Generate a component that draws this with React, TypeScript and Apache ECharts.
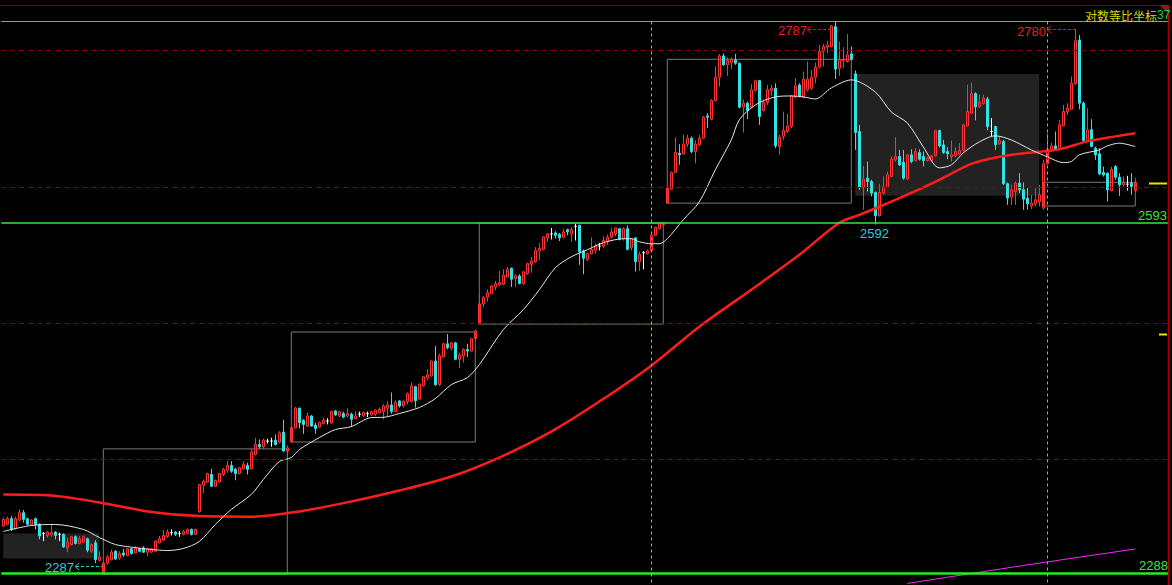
import React, { useEffect, useRef } from "react";
import * as echarts from "echarts";

// Each candle: [open, close, low, high]
const seg0: number[][] = [
  [2326.6, 2332.2, 2326.0, 2333.6], [2328.0, 2332.8, 2327.2, 2334.4], [2332.8, 2323.9, 2322.5, 2335.0],
  [2324.4, 2332.8, 2323.9, 2334.4], [2331.7, 2337.8, 2330.8, 2340.6], [2337.8, 2332.2, 2329.4, 2340.0],
  [2332.8, 2328.0, 2327.2, 2333.6], [2328.0, 2331.7, 2327.2, 2332.2], [2332.8, 2328.0, 2323.9, 2333.6],
  [2328.0, 2318.3, 2315.5, 2328.9], [2320.5, 2320.5, 2314.1, 2321.6], [2318.8, 2321.6, 2316.9, 2322.5],
  [2319.7, 2321.1, 2317.7, 2327.2], [2321.6, 2318.8, 2315.5, 2322.5], [2319.7, 2319.7, 2314.1, 2321.1],
  [2319.7, 2309.3, 2308.5, 2320.5], [2308.5, 2313.2, 2304.9, 2316.9], [2311.3, 2317.7, 2310.5, 2318.3],
  [2317.7, 2312.1, 2311.3, 2318.8], [2312.1, 2316.0, 2311.3, 2318.3], [2313.2, 2317.7, 2312.7, 2318.8],
  [2316.0, 2306.6, 2304.9, 2316.9], [2305.7, 2311.3, 2304.3, 2312.1], [2312.7, 2298.7, 2295.9, 2314.9],
  [2298.2, 2301.0, 2297.3, 2305.7],
];
const seg1: number[][] = [
  [2287.0, 2295.9, 2287.0, 2296.5], [2295.9, 2301.0, 2294.6, 2302.9], [2298.7, 2304.9, 2298.2, 2307.1],
  [2305.7, 2299.3, 2298.7, 2306.6], [2300.1, 2303.8, 2298.7, 2305.7], [2304.3, 2302.6, 2301.0, 2307.7],
  [2302.1, 2307.7, 2301.5, 2308.5], [2307.7, 2303.8, 2302.9, 2308.5], [2304.3, 2308.5, 2303.8, 2309.9],
  [2307.7, 2305.7, 2304.9, 2308.5], [2308.5, 2304.9, 2304.3, 2309.9], [2304.9, 2307.7, 2301.5, 2308.5],
  [2304.9, 2307.7, 2304.3, 2308.5], [2305.7, 2314.1, 2304.9, 2314.9], [2312.7, 2316.0, 2312.1, 2318.3],
  [2314.9, 2318.8, 2314.1, 2323.3], [2317.7, 2321.6, 2316.9, 2323.9], [2321.1, 2321.1, 2318.8, 2323.9],
  [2321.6, 2319.7, 2318.3, 2322.5], [2320.5, 2320.5, 2317.7, 2322.5], [2319.7, 2321.9, 2318.8, 2323.3],
  [2320.5, 2323.9, 2319.7, 2324.4], [2323.9, 2319.7, 2318.8, 2324.4], [2319.7, 2323.9, 2319.1, 2324.4],
  [2338.6, 2361.4, 2337.8, 2362.0], [2360.9, 2364.3, 2354.3, 2365.7], [2363.4, 2370.8, 2362.8, 2371.4],
  [2370.0, 2360.0, 2359.4, 2374.8], [2360.0, 2364.8, 2359.4, 2365.7], [2363.7, 2370.8, 2362.8, 2371.4],
  [2370.0, 2374.3, 2368.6, 2375.7], [2373.7, 2377.7, 2371.4, 2381.4], [2377.7, 2372.8, 2371.4, 2381.4],
  [2374.3, 2370.8, 2365.1, 2375.7], [2370.8, 2375.7, 2370.0, 2376.5], [2374.8, 2378.5, 2374.3, 2381.4],
  [2377.7, 2374.3, 2370.0, 2380.0], [2374.8, 2389.1, 2374.3, 2391.9], [2387.1, 2395.6, 2386.2, 2401.3],
  [2395.6, 2393.6, 2391.9, 2399.9], [2393.6, 2399.3, 2391.9, 2400.5], [2398.5, 2398.5, 2396.5, 2400.5],
  [2398.5, 2398.5, 2393.6, 2401.3], [2399.3, 2395.6, 2394.8, 2404.2], [2397.6, 2405.6, 2396.5, 2407.0],
  [2406.2, 2389.9, 2389.4, 2417.0], [2389.9, 2392.8, 2385.1, 2394.8],
];
const seg2: number[][] = [
  [2397.7, 2410.0, 2397.0, 2410.6], [2410.0, 2426.9, 2409.4, 2428.1], [2426.9, 2414.4, 2409.4, 2427.5],
  [2416.4, 2412.9, 2404.7, 2417.3], [2411.4, 2420.2, 2410.6, 2423.1], [2420.2, 2411.4, 2411.1, 2420.8],
  [2412.3, 2409.4, 2404.7, 2414.4], [2410.6, 2414.4, 2410.0, 2415.2], [2413.5, 2416.4, 2412.9, 2418.7],
  [2415.8, 2415.8, 2412.9, 2418.2], [2414.1, 2424.0, 2413.5, 2424.6], [2424.6, 2421.1, 2420.2, 2425.2],
  [2420.2, 2424.0, 2419.3, 2424.6], [2422.2, 2419.3, 2418.2, 2424.0], [2420.2, 2422.2, 2418.7, 2426.9],
  [2421.7, 2417.3, 2410.6, 2423.1], [2417.9, 2420.2, 2417.3, 2424.0], [2421.7, 2421.7, 2419.3, 2424.0],
  [2420.2, 2423.1, 2419.3, 2424.0], [2422.2, 2422.2, 2419.3, 2424.0], [2421.1, 2424.0, 2420.2, 2424.6],
  [2421.7, 2425.2, 2420.2, 2426.0], [2423.1, 2426.0, 2422.2, 2427.5], [2424.0, 2428.9, 2417.3, 2430.4],
  [2426.9, 2429.8, 2420.2, 2433.3], [2429.8, 2424.0, 2422.2, 2440.6], [2424.0, 2431.9, 2423.1, 2433.9],
  [2433.3, 2428.9, 2427.5, 2433.9], [2428.9, 2432.8, 2427.5, 2433.9], [2432.8, 2439.8, 2430.4, 2440.6],
  [2432.8, 2446.5, 2431.9, 2449.4], [2445.6, 2433.3, 2427.5, 2446.5], [2434.8, 2447.9, 2433.9, 2448.5],
  [2446.5, 2454.4, 2445.6, 2455.2], [2453.2, 2456.1, 2451.4, 2461.1], [2455.2, 2468.4, 2454.4, 2469.0],
  [2468.4, 2447.4, 2446.5, 2481.5], [2447.4, 2472.8, 2446.5, 2474.8], [2471.9, 2483.6, 2471.3, 2484.4],
  [2483.6, 2480.1, 2478.6, 2492.3], [2479.5, 2484.4, 2477.7, 2485.3], [2484.4, 2469.8, 2469.0, 2485.3],
  [2469.8, 2473.6, 2462.0, 2475.7], [2472.8, 2478.6, 2466.9, 2479.5], [2478.6, 2477.1, 2471.9, 2483.6],
  [2477.1, 2488.2, 2476.6, 2488.8], [2488.2, 2495.2, 2487.4, 2496.1],
];
const seg3: number[][] = [
  [2501.2, 2519.4, 2501.0, 2528.5], [2519.4, 2524.9, 2516.4, 2526.4], [2525.5, 2529.5, 2521.3, 2532.5],
  [2528.5, 2535.5, 2527.9, 2536.5], [2534.6, 2537.7, 2531.6, 2540.1], [2536.5, 2538.6, 2535.5, 2549.2],
  [2537.1, 2545.3, 2536.2, 2550.7], [2543.7, 2550.7, 2543.1, 2552.9], [2551.7, 2541.6, 2534.6, 2552.3],
  [2542.2, 2544.7, 2534.6, 2546.2], [2544.7, 2537.7, 2537.1, 2546.2], [2537.7, 2548.3, 2536.5, 2549.2],
  [2546.8, 2555.9, 2545.6, 2556.8], [2555.3, 2558.3, 2547.7, 2562.0], [2557.7, 2568.1, 2556.8, 2571.1],
  [2567.5, 2569.9, 2559.0, 2575.1], [2569.0, 2580.5, 2568.1, 2581.1], [2579.6, 2583.3, 2576.0, 2584.2],
  [2583.3, 2583.3, 2578.1, 2588.7], [2584.2, 2582.0, 2579.0, 2585.7], [2582.7, 2579.6, 2576.6, 2584.2],
  [2580.2, 2585.1, 2579.0, 2588.1], [2587.2, 2585.1, 2582.0, 2588.1], [2583.3, 2587.2, 2576.0, 2589.3],
  [2590.3, 2590.3, 2577.2, 2592.4], [2591.2, 2566.9, 2554.7, 2591.8], [2567.5, 2560.8, 2546.2, 2569.0],
  [2559.9, 2565.0, 2558.3, 2565.9], [2565.0, 2569.0, 2564.4, 2580.2], [2568.1, 2572.0, 2565.0, 2574.1],
  [2572.0, 2572.0, 2568.1, 2575.1], [2572.0, 2577.2, 2570.5, 2581.1], [2576.6, 2580.2, 2572.9, 2582.7],
  [2580.2, 2585.1, 2579.0, 2588.7], [2583.3, 2588.7, 2581.1, 2589.3], [2588.1, 2578.1, 2577.2, 2588.7],
  [2579.0, 2588.1, 2577.2, 2589.3], [2588.1, 2569.0, 2568.1, 2591.2], [2570.5, 2579.0, 2568.1, 2579.6],
  [2579.6, 2557.7, 2548.6, 2580.2], [2557.7, 2564.4, 2549.2, 2566.9], [2565.9, 2565.9, 2550.7, 2567.5],
  [2565.0, 2567.5, 2564.4, 2569.0], [2568.1, 2582.0, 2566.9, 2583.3], [2582.0, 2589.3, 2581.1, 2589.9],
  [2588.1, 2592.4, 2587.2, 2593.3], [2591.8, 2593.3, 2591.2, 2594.2],
];
const seg4: number[][] = [
  [2611.9, 2626.0, 2611.3, 2627.5], [2625.0, 2640.7, 2624.4, 2641.6], [2640.7, 2659.7, 2640.1, 2674.4],
  [2659.0, 2657.4, 2648.1, 2667.6], [2658.4, 2667.6, 2657.4, 2676.6], [2667.6, 2673.4, 2665.0, 2676.6],
  [2673.4, 2660.6, 2659.0, 2675.0], [2660.6, 2667.6, 2649.5, 2671.2], [2666.9, 2673.4, 2665.6, 2676.6],
  [2673.4, 2693.6, 2672.4, 2694.8], [2694.8, 2693.6, 2683.0, 2697.4], [2691.6, 2709.7, 2690.4, 2711.0],
  [2709.7, 2732.4, 2708.7, 2742.9], [2732.4, 2753.3, 2723.3, 2755.3], [2753.3, 2744.5, 2743.5, 2755.9],
  [2744.5, 2748.7, 2733.7, 2752.0], [2746.8, 2750.0, 2740.2, 2752.0], [2749.4, 2746.1, 2744.5, 2755.3],
  [2746.1, 2703.2, 2702.2, 2746.8], [2703.2, 2707.1, 2678.8, 2710.3], [2707.1, 2700.0, 2691.6, 2708.7],
  [2703.2, 2720.0, 2702.2, 2725.9], [2719.3, 2729.1, 2718.4, 2729.8], [2729.1, 2694.2, 2686.2, 2729.8],
  [2700.0, 2707.7, 2699.0, 2710.3], [2707.7, 2720.0, 2705.5, 2724.9], [2719.3, 2721.6, 2714.2, 2724.9],
  [2721.6, 2666.0, 2663.8, 2726.5], [2665.4, 2674.4, 2657.4, 2676.6], [2675.0, 2680.8, 2671.8, 2699.0],
  [2679.8, 2685.2, 2678.2, 2696.8], [2684.6, 2714.2, 2683.0, 2715.2], [2712.9, 2723.9, 2711.9, 2731.4],
  [2724.9, 2713.5, 2712.9, 2726.5], [2712.9, 2730.5, 2711.9, 2738.0], [2720.0, 2730.5, 2718.4, 2747.8],
  [2721.6, 2732.4, 2720.0, 2739.6], [2732.4, 2742.2, 2726.5, 2746.8], [2742.2, 2757.6, 2741.2, 2764.1],
  [2757.6, 2762.5, 2742.9, 2765.2], [2761.9, 2764.1, 2755.9, 2768.4], [2762.5, 2783.0, 2761.9, 2784.0],
  [2782.3, 2740.2, 2730.5, 2787.0], [2741.2, 2749.4, 2733.7, 2767.5], [2748.7, 2750.0, 2741.2, 2761.9],
  [2747.8, 2754.3, 2746.8, 2775.0], [2755.3, 2750.0, 2748.7, 2762.5],
];
const seg5: number[][] = [
  [2735.7, 2678.8, 2662.2, 2739.0], [2679.8, 2626.9, 2624.4, 2686.2], [2626.9, 2634.4, 2605.7, 2647.0],
  [2635.4, 2632.2, 2622.8, 2651.1], [2632.2, 2621.3, 2618.1, 2633.8], [2621.9, 2600.1, 2592.0, 2622.8],
  [2600.1, 2621.9, 2599.5, 2630.1], [2621.3, 2626.9, 2619.7, 2636.9], [2626.9, 2638.5, 2626.0, 2641.6],
  [2636.9, 2653.3, 2636.3, 2655.9], [2652.7, 2655.9, 2651.1, 2674.4], [2655.9, 2647.9, 2647.0, 2662.2],
  [2650.2, 2635.4, 2633.8, 2662.2], [2634.4, 2657.5, 2633.8, 2658.4], [2657.5, 2651.1, 2649.5, 2662.8],
  [2652.1, 2660.6, 2651.1, 2663.8], [2659.6, 2653.3, 2652.1, 2662.8], [2655.9, 2652.1, 2646.4, 2660.6],
  [2652.1, 2654.3, 2651.1, 2655.9], [2652.1, 2656.5, 2651.1, 2657.5], [2656.5, 2680.8, 2655.9, 2681.4],
  [2680.8, 2666.0, 2664.7, 2681.4], [2667.0, 2659.6, 2658.4, 2671.8], [2660.6, 2658.4, 2653.3, 2664.7],
  [2655.9, 2657.5, 2651.1, 2671.2], [2656.5, 2660.6, 2655.3, 2664.7], [2658.4, 2661.6, 2657.5, 2668.6],
  [2661.6, 2686.2, 2660.6, 2687.2], [2685.2, 2699.0, 2684.6, 2725.1], [2697.4, 2716.4, 2696.8, 2727.2],
  [2716.4, 2703.4, 2690.4, 2717.7], [2703.4, 2707.9, 2702.5, 2715.4], [2706.6, 2712.2, 2705.6, 2715.4],
  [2711.2, 2684.6, 2680.8, 2713.2], [2679.8, 2679.8, 2675.0, 2692.6], [2684.6, 2667.0, 2662.2, 2685.2],
  [2668.0, 2671.2, 2667.0, 2675.0], [2670.2, 2630.1, 2629.1, 2671.8], [2630.1, 2616.6, 2610.3, 2631.3],
  [2617.5, 2624.4, 2610.3, 2629.1], [2622.8, 2630.7, 2610.3, 2632.2], [2630.7, 2624.4, 2621.3, 2640.1],
  [2624.4, 2615.6, 2605.7, 2631.3], [2616.6, 2611.3, 2605.7, 2626.0], [2609.4, 2611.9, 2606.3, 2619.7],
  [2611.3, 2615.0, 2608.8, 2626.0], [2613.4, 2619.7, 2608.8, 2629.1],
];
const seg6: number[][] = [
  [2607.3, 2648.9, 2605.7, 2652.7], [2648.9, 2662.8, 2648.0, 2678.2], [2661.6, 2666.0, 2660.6, 2669.2],
  [2666.0, 2662.8, 2661.6, 2679.8], [2663.8, 2686.2, 2662.2, 2691.0], [2685.2, 2699.0, 2684.6, 2705.5],
  [2699.0, 2702.2, 2695.8, 2707.1], [2701.2, 2726.5, 2700.6, 2733.1], [2725.9, 2768.4, 2724.9, 2780.0],
  [2769.1, 2707.1, 2701.2, 2774.0], [2707.1, 2671.2, 2670.2, 2708.7], [2671.2, 2681.4, 2670.2, 2702.2],
  [2681.4, 2665.4, 2664.8, 2691.6], [2663.8, 2657.4, 2652.7, 2665.4], [2658.4, 2639.4, 2638.5, 2663.8],
  [2640.7, 2638.5, 2636.9, 2646.3], [2640.1, 2624.4, 2613.4, 2640.7], [2623.8, 2643.8, 2622.8, 2646.3],
  [2646.3, 2636.3, 2633.8, 2647.9], [2636.3, 2629.1, 2618.7, 2640.1], [2629.1, 2630.7, 2627.5, 2636.9],
  [2629.7, 2629.7, 2623.8, 2637.6], [2630.7, 2627.5, 2619.7, 2640.1], [2623.8, 2631.3, 2622.2, 2635.4],
];

// Moving averages: [candle index, price]
const maShort: number[][] = [
  [0, 2322.1], [7, 2327.1], [13, 2327.9], [20, 2323.8], [24, 2317.1], [28, 2311.3], [32, 2309.1],
  [37, 2307.2], [41, 2306.3], [45, 2308.0], [49, 2313.8], [53, 2327.9], [57, 2340.5], [62, 2353.1],
  [65, 2365.7], [69, 2381.0], [72, 2384.4], [74, 2391.2], [79, 2401.5], [83, 2408.4], [87, 2411.0],
  [92, 2418.8], [95, 2419.0], [99, 2422.3], [104, 2427.5], [108, 2435.3], [112, 2447.5], [116, 2453.6],
  [119, 2465.1], [125, 2496.2], [130, 2514.1], [134, 2532.1], [138, 2552.1], [142, 2562.2], [146, 2568.6],
  [150, 2575.1], [155, 2578.8], [157, 2578.8], [159, 2576.0], [162, 2574.2], [164, 2574.2], [166, 2578.8],
  [170, 2596.4], [174, 2613.1], [178, 2643.2], [182, 2671.7], [184, 2691.0], [188, 2705.4], [193, 2713.2],
  [197, 2714.1], [200, 2713.2], [203, 2711.2], [207, 2721.9], [212, 2729.8], [218, 2718.0], [222, 2698.6],
  [226, 2688.0], [230, 2665.0], [234, 2645.1], [237, 2647.9], [240, 2659.3], [244, 2669.8], [248, 2675.6],
  [252, 2671.7], [257, 2662.2], [261, 2655.6], [265, 2650.1], [267, 2651.1], [269, 2657.5], [274, 2662.2],
  [276, 2666.0], [279, 2668.6], [283, 2665.3],
];
const maLong: number[][] = [
  [0, 2353.1], [12, 2352.3], [24, 2346.4], [37, 2338.4], [49, 2334.9], [62, 2334.4], [74, 2338.8],
  [87, 2347.2], [99, 2356.4], [112, 2368.3], [124, 2384.4], [137, 2406.7], [149, 2432.7], [162, 2464.2],
  [174, 2498.8], [187, 2532.1], [199, 2564.0], [209, 2593.6], [214, 2600.9], [219, 2608.5], [226, 2619.8],
  [234, 2633.8], [242, 2648.9], [249, 2655.6], [256, 2659.4], [264, 2662.7], [271, 2670.3], [278, 2675.1],
  [283, 2678.2],
];
const maYear: number[][] = [[226, 2279.3], [255, 2294.0], [283, 2307.6]];

// Annotation levels
const levelLines = [2787.5, 2593.5, 2288.0];
const gridLevels = [2758.5, 2626.8, 2501.9, 2383.0];
const markerIndex = [162, 261];
// [startIndex, topPrice, endIndex, bottomPrice]
const outlineBoxes = [
  [25, 2391.8, 71, 2287.0],
  [72, 2494.1, 118, 2397.7],
  [119, 2593.3, 165, 2501.2],
  [166, 2750.0, 212, 2611.9],
  [260, 2631.5, 283, 2609.2],
];
const filledBoxes = [
  [0, 2320.4, 24, 2299.8],
  [213, 2735.6, 259, 2618.7],
];

const candles = [...seg0, ...seg1, ...seg2, ...seg3, ...seg4, ...seg5, ...seg6];
const emptySlots = 8;
const categories = candles
  .map((_, i) => `K${i + 1}`)
  .concat(Array.from({ length: emptySlots }, (_, i) => `E${i + 1}`));

const UP = "#ff3333";
const DOWN = "#2fe3e3";
const FONT = "'Liberation Sans', Arial, sans-serif";

export default function App() {
  const ref = useRef<HTMLDivElement>(null);

  useEffect(() => {
    document.body.style.margin = "0";
    document.body.style.background = "#000";
    if (!ref.current) return;
    const chart = echarts.init(ref.current, undefined, { renderer: "svg" });

    const candleItems = candles.map((c) =>
      c[0] === c[1]
        ? {
            value: c,
            itemStyle: { color: "#ffffff", color0: "#ffffff", borderColor: "#ffffff", borderColor0: "#ffffff" },
          }
        : { value: c }
    );

    const areaData: any[] = [];
    outlineBoxes.forEach((b) =>
      areaData.push([
        { coord: [b[0], b[1]], itemStyle: { color: "rgba(0,0,0,0)", borderColor: "#7a7a7a", borderWidth: 1 } },
        { coord: [b[2], b[3]] },
      ])
    );
    filledBoxes.forEach((b) =>
      areaData.push([
        { coord: [b[0], b[1]], itemStyle: { color: "#222222", borderWidth: 0 } },
        { coord: [b[2], b[3]] },
      ])
    );

    const dashRed = { stroke: "#dd1111", lineWidth: 1, lineDash: [3, 2], fill: null };
    const cyanTxt = "#25d0d0";

    const option: any = {
      animation: false,
      backgroundColor: "#000000",
      grid: { left: 1.3, top: 5, width: 1168, height: 580 },
      xAxis: { type: "category", data: categories, show: false, boundaryGap: true },
      yAxis: { type: "log", logBase: 10, min: 2278, max: 2804, show: false, splitLine: { show: false } },
      series: [
        {
          type: "line",
          data: [],
          z: 1,
          silent: true,
          markArea: { silent: true, data: areaData },
          markLine: {
            silent: true,
            symbol: ["none", "none"],
            label: { show: false },
            lineStyle: { color: "#8b0000", type: [5, 4], width: 1 },
            data: gridLevels.map((v) => ({ yAxis: v })),
          },
        },
        {
          type: "candlestick",
          data: candleItems,
          barWidth: 2.4,
          z: 2,
          itemStyle: {
            color: "rgba(0,0,0,0)",
            color0: DOWN,
            borderColor: UP,
            borderColor0: DOWN,
            borderWidth: 1,
          },
        },
        {
          type: "line",
          data: maLong,
          smooth: 0.3,
          showSymbol: false,
          symbol: "none",
          z: 3,
          lineStyle: { color: "#ff1c1c", width: 2.5 },
        },
        {
          type: "line",
          data: maYear,
          showSymbol: false,
          symbol: "none",
          z: 3,
          lineStyle: { color: "#ff22ff", width: 1 },
        },
        {
          type: "line",
          data: maShort,
          smooth: 0.3,
          showSymbol: false,
          symbol: "none",
          z: 4,
          lineStyle: { color: "#e6e6e6", width: 1 },
        },
        {
          type: "line",
          data: [],
          z: 5,
          silent: true,
          markLine: {
            silent: true,
            symbol: ["none", "none"],
            label: { show: false },
            data: [
              { yAxis: levelLines[0], lineStyle: { color: "#3fd23f", width: 1, type: "solid" } },
              { yAxis: levelLines[1], lineStyle: { color: "#3fe03f", width: 1.5, type: "solid" } },
              { yAxis: levelLines[2], lineStyle: { color: "#22ee22", width: 2.5, type: "solid" } },
              ...markerIndex.map((i) => [
                { coord: [i, levelLines[0]], lineStyle: { color: "#22dddd", width: 1, type: [3, 3] } },
                { coord: [i, 2278] },
              ]),
            ],
          },
        },
      ],
      graphic: [
        { type: "line", z: 50, shape: { x1: 0, y1: 5.5, x2: 1168, y2: 5.5 }, style: { stroke: "#7a0000", lineWidth: 1 } },
        { type: "line", z: 50, shape: { x1: 1168.5, y1: 5, x2: 1168.5, y2: 585 }, style: { stroke: "#b00000", lineWidth: 1.5 } },
        { type: "polygon", z: 50, shape: { points: [[1159, 5], [1168, 5], [1168, 13]] }, style: { fill: "#8b1a1a" } },
        { type: "line", z: 50, shape: { x1: 1149, y1: 183.5, x2: 1167, y2: 183.5 }, style: { stroke: "#e6e600", lineWidth: 2 } },
        { type: "line", z: 50, shape: { x1: 1159, y1: 334.5, x2: 1167, y2: 334.5 }, style: { stroke: "#e6e600", lineWidth: 2 } },
        {
          type: "text", z: 60, x: 1085, y: 15,
          style: { text: "对数等比坐标", fill: "#d6d600", font: "12px 'Noto Sans CJK SC', sans-serif", verticalAlign: "middle" },
        },
        {
          type: "text", z: 60, x: 1157, y: 15,
          style: { text: "37", fill: "#33cc33", font: `12px ${FONT}`, verticalAlign: "middle" },
        },
        // high 2787
        { type: "text", z: 60, x: 778, y: 30, style: { text: "2787", fill: "#e61e1e", font: `13px ${FONT}`, verticalAlign: "middle" } },
        { type: "polyline", z: 60, shape: { points: [[811, 26], [807, 29.5], [811, 33]] }, style: { stroke: "#dd1111", lineWidth: 1, fill: null } },
        { type: "line", z: 60, shape: { x1: 808, y1: 29.5, x2: 832, y2: 29.5 }, style: dashRed },
        // high 2780
        { type: "text", z: 60, x: 1017, y: 31, style: { text: "2780", fill: "#e61e1e", font: `13px ${FONT}`, verticalAlign: "middle" } },
        { type: "polyline", z: 60, shape: { points: [[1051, 26], [1047, 29.5], [1051, 33]] }, style: { stroke: "#dd1111", lineWidth: 1, fill: null } },
        { type: "line", z: 60, shape: { x1: 1048, y1: 29.5, x2: 1075, y2: 29.5 }, style: dashRed },
        // low 2592
        { type: "text", z: 60, x: 860, y: 233, style: { text: "2592", fill: cyanTxt, font: `13px ${FONT}`, verticalAlign: "middle" } },
        // low 2287
        { type: "text", z: 60, x: 45, y: 567, style: { text: "2287", fill: cyanTxt, font: `13px ${FONT}`, verticalAlign: "middle" } },
        { type: "polyline", z: 60, shape: { points: [[79, 563], [75, 566.5], [79, 570]] }, style: { stroke: cyanTxt, lineWidth: 1, fill: null } },
        { type: "line", z: 60, shape: { x1: 76, y1: 566.5, x2: 102, y2: 566.5 }, style: { stroke: cyanTxt, lineWidth: 1, lineDash: [3, 2], fill: null } },
        // level labels
        { type: "text", z: 60, x: 1138, y: 215.5, style: { text: "2593", fill: "#3fe03f", font: `13px ${FONT}`, verticalAlign: "middle" } },
        { type: "text", z: 60, x: 1139, y: 565.5, style: { text: "2288", fill: "#3fe03f", font: `13px ${FONT}`, verticalAlign: "middle" } },
      ],
    };

    chart.setOption(option);
    return () => chart.dispose();
  }, []);

  return (
    <div
      ref={ref}
      style={{ position: "fixed", left: 0, top: 0, width: 1172, height: 585, background: "#000" }}
    />
  );
}
